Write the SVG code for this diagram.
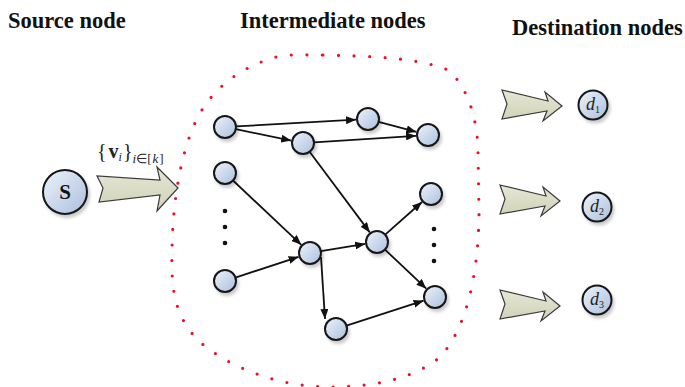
<svg xmlns="http://www.w3.org/2000/svg" width="685" height="387" viewBox="0 0 685 387">
<defs>
<linearGradient id="ng" x1="0" y1="0" x2="1" y2="1">
<stop offset="0" stop-color="#eef3fb"/>
<stop offset="1" stop-color="#a9bfdd"/>
</linearGradient>
<linearGradient id="ag" x1="0" y1="0" x2="0" y2="1">
<stop offset="0" stop-color="#e6e7d6"/>
<stop offset="1" stop-color="#cfd1b6"/>
</linearGradient>
<filter id="sh" x="-50%" y="-50%" width="200%" height="200%">
<feDropShadow dx="2" dy="3" stdDeviation="1.5" flood-color="#000" flood-opacity="0.2"/>
</filter>
<marker id="ah" viewBox="0 0 10 8" refX="10" refY="4" markerWidth="10" markerHeight="8" markerUnits="userSpaceOnUse" orient="auto">
<path d="M0,0 L10,4 L0,8 Z" fill="#111"/>
</marker>
<path id="bigarrow" d="M0,0 L-17,-14 L-14,-5 L-60,-16 L-55,-2 L-60,13 L-15,5 L-19,15 Z"/>
</defs>
<style>
.title{font-family:"Liberation Serif","Times New Roman",serif;font-weight:bold;font-size:22.5px;fill:#111}
.node{fill:url(#ng);stroke:#151515;stroke-width:2;filter:url(#sh)}
.edge{stroke:#111;stroke-width:1.8;fill:none;marker-end:url(#ah)}
.barrow{fill:url(#ag);stroke:#3a3a3a;stroke-width:1.2;stroke-linejoin:miter}
.dot{fill:#111}
.lbl{font-family:"Liberation Serif","Times New Roman",serif;fill:#222}
</style>

<text class="title" x="8" y="28">Source node</text>
<text class="title" x="240" y="28">Intermediate nodes</text>
<text class="title" x="512" y="35">Destination nodes</text>

<path d="M323,55 C370,56 420,58 448,70 C466,85 477,115 478,150 L479,215 C478,280 465,330 440,357 C415,378 375,387 330,387 C280,387 230,368 200,342 C175,318 171,290 172,254 C172,215 178,160 195,123 C210,90 240,66 280,56 C295,54 310,55 323,55 Z" fill="none" stroke="#e8102a" stroke-width="3.2" stroke-linecap="round" stroke-dasharray="0 15.5"/>

<g id="big-arrows">
<path class="barrow" d="M178,188 L157,167 L160,180 L97,176 L103,188 L99,202 L160,195 L157,211 Z"/>
<use href="#bigarrow" class="barrow" transform="translate(562,106)"/>
<use href="#bigarrow" class="barrow" transform="translate(560,201)"/>
<use href="#bigarrow" class="barrow" transform="translate(560,306)"/>
</g>

<text class="lbl" x="97" y="158" font-size="20">{<tspan font-weight="bold" font-size="20" dx="2">v</tspan><tspan font-style="italic" font-size="12" dy="3">i</tspan><tspan dy="-3" dx="1">}</tspan><tspan font-style="italic" font-size="13" dy="5">i</tspan><tspan font-size="13">∈[</tspan><tspan font-style="italic" font-size="13" dx="1">k</tspan><tspan font-size="13" dx="1">]</tspan></text>

<g id="edges">
<line class="edge" x1="236" y1="126.4" x2="356" y2="119.7"/>
<line class="edge" x1="235.8" y1="129.2" x2="291.2" y2="140.6"/>
<line class="edge" x1="314" y1="142.3" x2="416" y2="135.8"/>
<line class="edge" x1="378.6" y1="121.8" x2="416.4" y2="131.9"/>
<line class="edge" x1="309.6" y1="151.8" x2="369.8" y2="232.4"/>
<line class="edge" x1="233" y1="180.5" x2="301.3" y2="244.8"/>
<line class="edge" x1="385.2" y1="234.7" x2="422" y2="202"/>
<line class="edge" x1="320.9" y1="251.2" x2="365.2" y2="243.9"/>
<line class="edge" x1="235.4" y1="277.6" x2="298.6" y2="256.8"/>
<line class="edge" x1="321" y1="257" x2="325" y2="319"/>
<line class="edge" x1="385" y1="249.6" x2="426.3" y2="288.7"/>
<line class="edge" x1="346.5" y1="325.6" x2="423.6" y2="300.7"/>
</g>

<g id="ellipsis">
<circle class="dot" cx="225" cy="211" r="2.3"/>
<circle class="dot" cx="225" cy="227" r="2.3"/>
<circle class="dot" cx="225" cy="243" r="2.3"/>
<circle class="dot" cx="434" cy="229" r="2.3"/>
<circle class="dot" cx="434" cy="245" r="2.3"/>
<circle class="dot" cx="434" cy="261" r="2.3"/>
</g>

<g id="nA"><circle class="node" cx="225" cy="127" r="11"/></g>
<g id="nB"><circle class="node" cx="303" cy="143" r="11"/></g>
<g id="nC"><circle class="node" cx="368" cy="119" r="11"/></g>
<g id="nD"><circle class="node" cx="428" cy="135" r="11"/></g>
<g id="nE"><circle class="node" cx="225" cy="173" r="11"/></g>
<g id="nF"><circle class="node" cx="431" cy="194" r="11"/></g>
<g id="nG"><circle class="node" cx="310" cy="253" r="11"/></g>
<g id="nH"><circle class="node" cx="377" cy="242" r="11"/></g>
<g id="nI"><circle class="node" cx="225" cy="281" r="11"/></g>
<g id="nJ"><circle class="node" cx="435" cy="297" r="11"/></g>
<g id="nK"><circle class="node" cx="336" cy="329" r="11"/></g>

<g id="source">
<circle class="node" cx="65" cy="192" r="22"/>
<text x="65" y="199" text-anchor="middle" font-family="Liberation Serif, serif" font-weight="bold" font-size="21" fill="#111">S</text>
</g>

<g id="d1">
<circle class="node" cx="593" cy="105" r="14.5"/>
<text class="lbl" x="586" y="110" font-size="18" font-style="italic">d<tspan font-style="normal" font-size="10" dy="3">1</tspan></text>
</g>
<g id="d2">
<circle class="node" cx="597" cy="207" r="14.5"/>
<text class="lbl" x="590" y="212" font-size="18" font-style="italic">d<tspan font-style="normal" font-size="10" dy="3">2</tspan></text>
</g>
<g id="d3">
<circle class="node" cx="597" cy="300" r="14.5"/>
<text class="lbl" x="590" y="305" font-size="18" font-style="italic">d<tspan font-style="normal" font-size="10" dy="3">3</tspan></text>
</g>
</svg>
